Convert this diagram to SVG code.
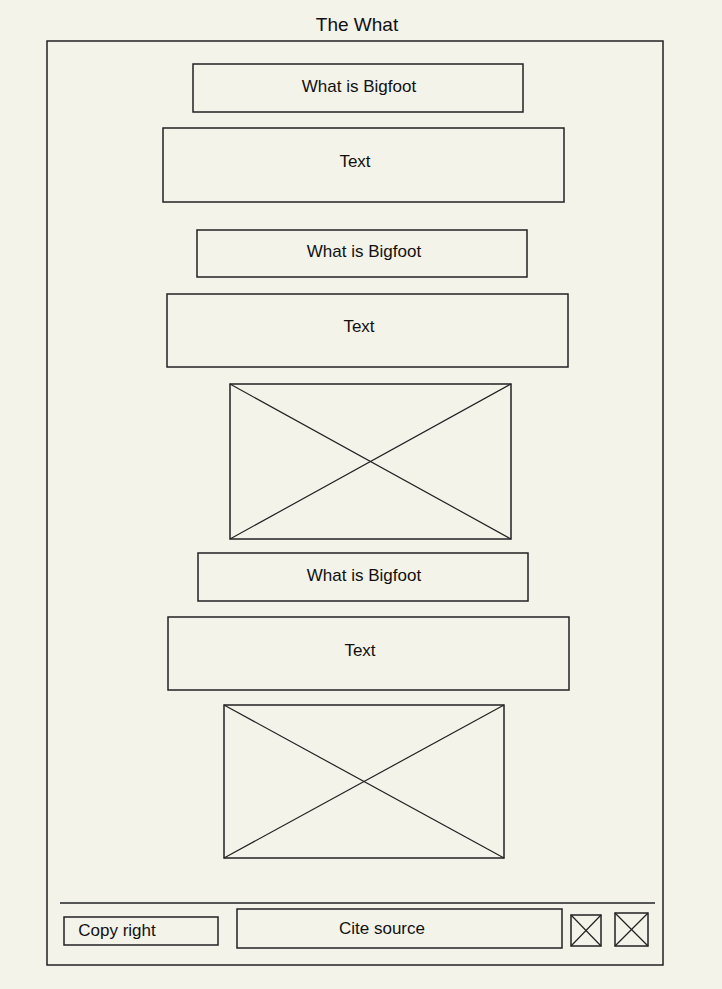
<svg xmlns="http://www.w3.org/2000/svg" width="722" height="989" viewBox="0 0 722 989">
<style>
.b{fill:none;stroke:#222;stroke-width:1.5}
.t{font-family:"Liberation Sans",Arial,sans-serif;font-size:17px;fill:#111;text-anchor:middle;dominant-baseline:central}
.x{stroke:#222;stroke-width:1.2}
</style>
<rect width="722" height="989" fill="#f4f3ea"/>
<text class="t" x="357" y="24" style="font-size:19px">The What</text>
<g id="frame"><rect class="b" x="47" y="41" width="616" height="924"/></g>
<g id="h1"><rect class="b" x="193" y="64" width="330" height="48"/><text class="t" x="359" y="86">What is Bigfoot</text></g>
<g id="t1"><rect class="b" x="163" y="128" width="401" height="74"/><text class="t" x="355" y="161">Text</text></g>
<g id="h2"><rect class="b" x="197" y="230" width="330" height="47"/><text class="t" x="364" y="251">What is Bigfoot</text></g>
<g id="t2"><rect class="b" x="167" y="294" width="401" height="73"/><text class="t" x="359" y="326">Text</text></g>
<g id="img1"><rect class="b" x="230" y="384" width="281" height="155"/><line class="x" x1="230" y1="384" x2="511" y2="539"/><line class="x" x1="511" y1="384" x2="230" y2="539"/></g>
<g id="h3"><rect class="b" x="198" y="553" width="330" height="48"/><text class="t" x="364" y="575">What is Bigfoot</text></g>
<g id="t3"><rect class="b" x="168" y="617" width="401" height="73"/><text class="t" x="360" y="650">Text</text></g>
<g id="img2"><rect class="b" x="224" y="705" width="280" height="153"/><line class="x" x1="224" y1="705" x2="504" y2="858"/><line class="x" x1="504" y1="705" x2="224" y2="858"/></g>
<g id="divider"><line class="b" x1="60" y1="903" x2="655" y2="903"/></g>
<g id="copy"><rect class="b" x="64" y="917" width="154" height="28"/><text class="t" x="117" y="930">Copy right</text></g>
<g id="cite"><rect class="b" x="237" y="909" width="325" height="39"/><text class="t" x="382" y="928">Cite source</text></g>
<g id="icon1"><rect class="b" x="571" y="915" width="30" height="31"/><line class="x" x1="571" y1="915" x2="601" y2="946"/><line class="x" x1="601" y1="915" x2="571" y2="946"/></g>
<g id="icon2"><rect class="b" x="615" y="913" width="33" height="33"/><line class="x" x1="615" y1="913" x2="648" y2="946"/><line class="x" x1="648" y1="913" x2="615" y2="946"/></g>
<g id="connectors"></g>
</svg>
